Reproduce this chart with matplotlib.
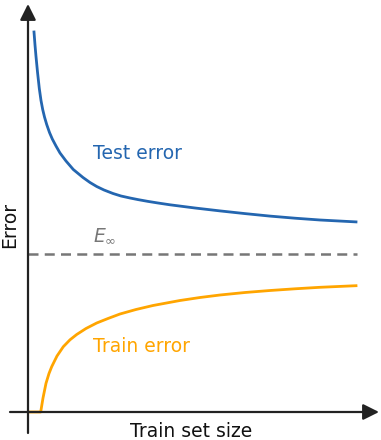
import matplotlib
matplotlib.use('Agg')
import matplotlib.pyplot as plt

# valores (unidades arbitrarias)
tamanho_teste = [0.06, 0.07, 0.08, 0.095, 0.113, 0.13, 0.147, 0.165, 0.187, 0.215, 0.243, 0.28, 0.32,
                 0.38, 0.453, 0.55, 0.62, 0.687, 0.76, 0.85, 0.93, 1.02, 1.1, 1.2, 1.3, 1.42, 1.67, 1.92,
                 2.17, 2.42, 2.67, 2.92, 3.28]
erro_teste = [3.80, 3.67, 3.555, 3.40, 3.235, 3.115, 3.025, 2.95, 2.875, 2.795, 2.73, 2.66, 2.59,
              2.51, 2.425, 2.345, 2.295, 2.255, 2.22, 2.185, 2.16, 2.14, 2.124, 2.106, 2.09, 2.072, 2.04, 2.011,
              1.984, 1.959, 1.938, 1.92, 1.901]

tamanho_treino = [0.02, 0.127, 0.15, 0.18, 0.21, 0.237, 0.29, 0.353, 0.42, 0.487, 0.58, 0.687, 0.8,
                  0.92, 1.08, 1.25, 1.52, 1.72, 1.92, 2.17, 2.42, 2.67, 2.92, 3.28]
erro_treino = [0.0, 0.0, 0.14, 0.287, 0.385, 0.453, 0.56, 0.653, 0.722, 0.775, 0.835, 0.89, 0.935,
               0.98, 1.025, 1.065, 1.115, 1.145, 1.17, 1.195, 1.215, 1.232, 1.247, 1.263]

erro_inf = 1.58
x_fim = 3.29

azul = '#2466b0'
laranja = '#ffa500'
cinza = '#777777'

fig = plt.figure(figsize=(3.81, 4.40), dpi=100)
ax = fig.add_axes([0, 0, 1, 1])
ax.set_xlim(-0.28, 3.53)
ax.set_ylim(-0.28, 4.12)
ax.axis('off')

# eixos com setas
ax.annotate('', xy=(3.51, 0), xytext=(-0.18, 0),
            arrowprops=dict(arrowstyle='-|>', lw=1.6, color='#222222', mutation_scale=24, shrinkA=0, shrinkB=0))
ax.annotate('', xy=(0, 4.08), xytext=(0, -0.21),
            arrowprops=dict(arrowstyle='-|>', lw=1.6, color='#222222', mutation_scale=24, shrinkA=0, shrinkB=0))

ax.plot(tamanho_teste, erro_teste, color=azul, lw=2, solid_joinstyle='round')
ax.plot(tamanho_treino, erro_treino, color=laranja, lw=2, solid_joinstyle='round')
ax.plot([0, x_fim], [erro_inf, erro_inf], color=cinza, lw=1.8, ls=(0, (4, 2.5)))

ax.text(0.65, 2.53, 'Test error', color=azul, fontsize=13.5)
ax.text(0.65, 0.60, 'Train error', color=laranja, fontsize=13.5)
ax.text(0.65, 1.71, r'$E_\infty$', color=cinza, fontsize=13.5)

ax.text(1.63, -0.245, 'Train set size', fontsize=13.5, ha='center', va='baseline', color='#111111')
ax.text(-0.18, 1.87, 'Error', fontsize=13.5, ha='center', va='center', rotation=90, color='#111111')

fig.savefig('out.png', dpi=100)
